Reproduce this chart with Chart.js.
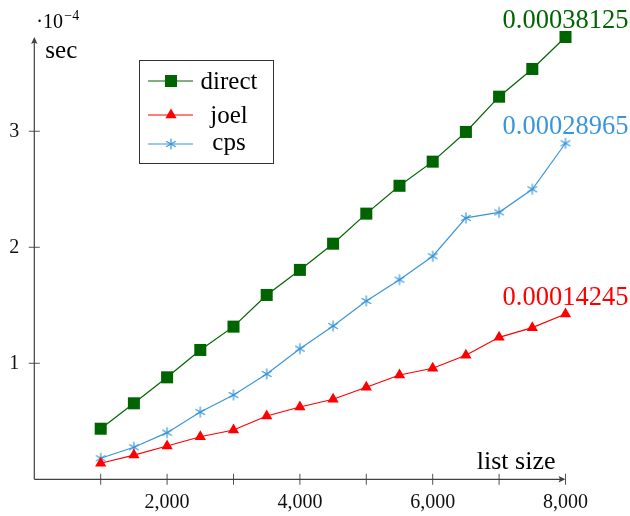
<!DOCTYPE html>
<html>
<head>
<meta charset="utf-8">
<script src="https://cdn.jsdelivr.net/npm/chart.js@4/dist/chart.umd.min.js"></script>
<style>
  html, body { margin: 0; padding: 0; background: #fff; }
  #wrap { width: 630px; height: 516px; }
</style>
</head>
<body>
<div id="wrap"><canvas id="c" width="630" height="516"></canvas></div>
<script>
// ---- data (seconds) ----
const listSizes = [1000, 1500, 2000, 2500, 3000, 3500, 4000, 4500, 5000, 5500, 6000, 6500, 7000, 7500, 8000];
const directSec = [0.436e-4, 0.655e-4, 0.879e-4, 1.115e-4, 1.316e-4, 1.589e-4, 1.805e-4, 2.031e-4, 2.290e-4, 2.530e-4, 2.738e-4, 2.994e-4, 3.298e-4, 3.537e-4, 3.8125e-4];
const joelSec   = [0.138e-4, 0.209e-4, 0.287e-4, 0.367e-4, 0.425e-4, 0.546e-4, 0.623e-4, 0.690e-4, 0.793e-4, 0.899e-4, 0.957e-4, 1.069e-4, 1.224e-4, 1.307e-4, 1.4245e-4];
const cpsSec    = [0.181e-4, 0.276e-4, 0.402e-4, 0.580e-4, 0.727e-4, 0.908e-4, 1.126e-4, 1.321e-4, 1.537e-4, 1.721e-4, 1.923e-4, 2.253e-4, 2.301e-4, 2.500e-4, 2.8965e-4];
const seriesNames = ['direct', 'joel', 'cps'];
const xTickValues = [1000, 2000, 3000, 4000, 5000, 6000, 7000, 8000];
const xLabeledTicks = [2000, 4000, 6000, 8000];
const yTickValues = [1e-4, 2e-4, 3e-4];
const yExponent = -4;
const xAxisTitle = 'list size';
const yAxisTitle = 'sec';

// ---- styling ----
const SERIF = '"Liberation Serif", "Times New Roman", serif';
const GREEN = '#006400';
const RED = '#ff0000';
const BLUE = '#3a96db';
const AXIS = '#404040';

function makeAsterisk(color) {
  const c = document.createElement('canvas');
  c.width = 14; c.height = 14;
  const g = c.getContext('2d');
  g.strokeStyle = color; g.lineWidth = 1.2; g.lineCap = 'butt';
  const r = 5.5;
  [90, 150, 210].forEach(a => {
    const t = a * Math.PI / 180;
    g.beginPath();
    g.moveTo(7 + Math.cos(t) * r, 7 - Math.sin(t) * r);
    g.lineTo(7 - Math.cos(t) * r, 7 + Math.sin(t) * r);
    g.stroke();
  });
  return c;
}
const asterisk = makeAsterisk(BLUE);

const toXY = (ys) => listSizes.map((x, i) => ({ x: x, y: ys[i] }));

const datasets = [
  { label: seriesNames[0], data: toXY(directSec), borderColor: GREEN, backgroundColor: GREEN,
    pointStyle: 'rect', pointRadius: 8.5, pointBorderWidth: 0, borderWidth: 1.2, clip: false },
  { label: seriesNames[1], data: toXY(joelSec), borderColor: RED, backgroundColor: RED,
    pointStyle: 'triangle', pointRadius: 6.5, pointBorderWidth: 0, borderWidth: 1.2, clip: false },
  { label: seriesNames[2], data: toXY(cpsSec), borderColor: BLUE, backgroundColor: BLUE,
    pointStyle: asterisk, pointRadius: 7, pointBorderWidth: 0, borderWidth: 1.2, clip: false }
];

function arrow(ctx, x, y, dir) {
  ctx.save();
  ctx.translate(x, y);
  if (dir === 'up') ctx.rotate(-Math.PI / 2);
  ctx.beginPath();
  ctx.moveTo(0, 0);
  ctx.lineTo(-7, -3.2);
  ctx.lineTo(-5.5, 0);
  ctx.lineTo(-7, 3.2);
  ctx.closePath();
  ctx.fill();
  ctx.restore();
}

const axesPlugin = {
  id: 'pgfAxes',
  beforeDatasetsDraw(chart) {
    const ctx = chart.ctx;
    const xs = chart.scales.x, ys = chart.scales.y;
    const x0 = xs.getPixelForValue(0), y0 = ys.getPixelForValue(0);
    const xEnd = xs.getPixelForValue(xs.max), yEnd = ys.getPixelForValue(ys.max);
    ctx.save();
    ctx.strokeStyle = AXIS; ctx.fillStyle = AXIS; ctx.lineWidth = 1.2;
    ctx.beginPath();
    ctx.moveTo(x0, y0); ctx.lineTo(xEnd - 3, y0);
    ctx.moveTo(x0, y0); ctx.lineTo(x0, yEnd + 3);
    ctx.stroke();
    arrow(ctx, xEnd, y0, 'right');
    arrow(ctx, x0, yEnd, 'up');
    ctx.lineWidth = 0.9;
    ctx.beginPath();
    xs.ticks.forEach(t => {
      const px = xs.getPixelForValue(t.value);
      ctx.moveTo(px, y0 - 5.5); ctx.lineTo(px, y0 + 5.5);
    });
    ys.ticks.forEach(t => {
      const py = ys.getPixelForValue(t.value);
      ctx.moveTo(x0 - 5.5, py); ctx.lineTo(x0 + 5.5, py);
    });
    ctx.stroke();
    // axis titles
    ctx.fillStyle = '#000';
    ctx.font = '26px ' + SERIF;
    ctx.textBaseline = 'alphabetic';
    ctx.textAlign = 'right';
    ctx.fillText(xAxisTitle, xEnd - 10, y0 - 10);
    ctx.font = '25px ' + SERIF;
    ctx.textAlign = 'left';
    ctx.fillText(yAxisTitle, x0 + 11, 58);
    // exponent marker
    ctx.font = '20px ' + SERIF;
    ctx.fillText('\u00b710', x0 + 2, 28);
    ctx.font = '14px ' + SERIF;
    ctx.fillText('\u2212' + Math.abs(yExponent), x0 + 30, 20);
    ctx.restore();
  },
  afterDatasetsDraw(chart) {
    const ctx = chart.ctx;
    ctx.save();
    // end-point value labels
    ctx.font = '26.5px ' + SERIF;
    ctx.textAlign = 'center';
    ctx.textBaseline = 'alphabetic';
    chart.data.datasets.forEach((ds, i) => {
      const meta = chart.getDatasetMeta(i);
      const last = meta.data[meta.data.length - 1];
      const v = ds.data[ds.data.length - 1].y;
      ctx.fillStyle = ds.borderColor;
      ctx.fillText(Number(v.toPrecision(5)).toString(), last.x, last.y - 9);
    });
    // legend
    const bx = 139.5, by = 60.5, bw = 134, bh = 103;
    ctx.fillStyle = '#fff';
    ctx.fillRect(bx, by, bw, bh);
    ctx.strokeStyle = '#333'; ctx.lineWidth = 1;
    ctx.strokeRect(bx, by, bw, bh);
    const rowsY = [81, 115, 144];
    const baseY = [89, 122.5, 150];
    chart.data.datasets.forEach((ds, i) => {
      const y = rowsY[i];
      ctx.strokeStyle = ds.borderColor; ctx.lineWidth = 1.2;
      ctx.beginPath(); ctx.moveTo(148, y); ctx.lineTo(193, y); ctx.stroke();
      ctx.fillStyle = ds.backgroundColor;
      ctx.beginPath();
      if (ds.pointStyle === 'rect') {
        const s = Math.SQRT1_2 * ds.pointRadius;
        ctx.fillRect(171 - s, y - s, 2 * s, 2 * s);
      } else if (ds.pointStyle === 'triangle') {
        const r = ds.pointRadius;
        ctx.moveTo(171, y - r);
        ctx.lineTo(171 + r * Math.sin(Math.PI * 2 / 3), y - r * Math.cos(Math.PI * 2 / 3));
        ctx.lineTo(171 - r * Math.sin(Math.PI * 2 / 3), y - r * Math.cos(Math.PI * 2 / 3));
        ctx.closePath(); ctx.fill();
      } else {
        ctx.drawImage(ds.pointStyle, 171 - 7, y - 7);
      }
      ctx.fillStyle = '#000';
      ctx.font = '25px ' + SERIF;
      ctx.textAlign = 'center';
      ctx.fillText(ds.label, 229, baseY[i]);
    });
    ctx.restore();
  }
};

new Chart(document.getElementById('c'), {
  type: 'line',
  data: { datasets: datasets },
  plugins: [axesPlugin],
  options: {
    responsive: false,
    animation: false,
    events: [],
    layout: { padding: { top: 37, right: 64.5, left: 0, bottom: 0 } },
    plugins: { legend: { display: false }, tooltip: { enabled: false } },
    scales: {
      x: {
        type: 'linear', min: 0, max: 8000,
        afterBuildTicks: (s) => { s.ticks = xTickValues.map(v => ({ value: v })); },
        afterFit: (s) => { s.height = 36.7; },
        grid: { display: false, drawTicks: false },
        border: { display: false },
        ticks: {
          autoSkip: false, maxRotation: 0, padding: 11,
          color: '#111', font: { family: SERIF, size: 20 },
          callback: (v) => xLabeledTicks.includes(v) ? v.toLocaleString('en-US') : ''
        }
      },
      y: {
        type: 'linear', min: 0, max: 3.8125e-4,
        afterBuildTicks: (s) => { s.ticks = yTickValues.map(v => ({ value: v })); },
        afterFit: (s) => { s.width = 34.3; },
        grid: { display: false, drawTicks: false },
        border: { display: false },
        ticks: {
          autoSkip: false, padding: 15,
          color: '#111', font: { family: SERIF, size: 20 },
          callback: (v) => String(Math.round(v / Math.pow(10, yExponent)))
        }
      }
    }
  }
});
</script>
</body>
</html>
